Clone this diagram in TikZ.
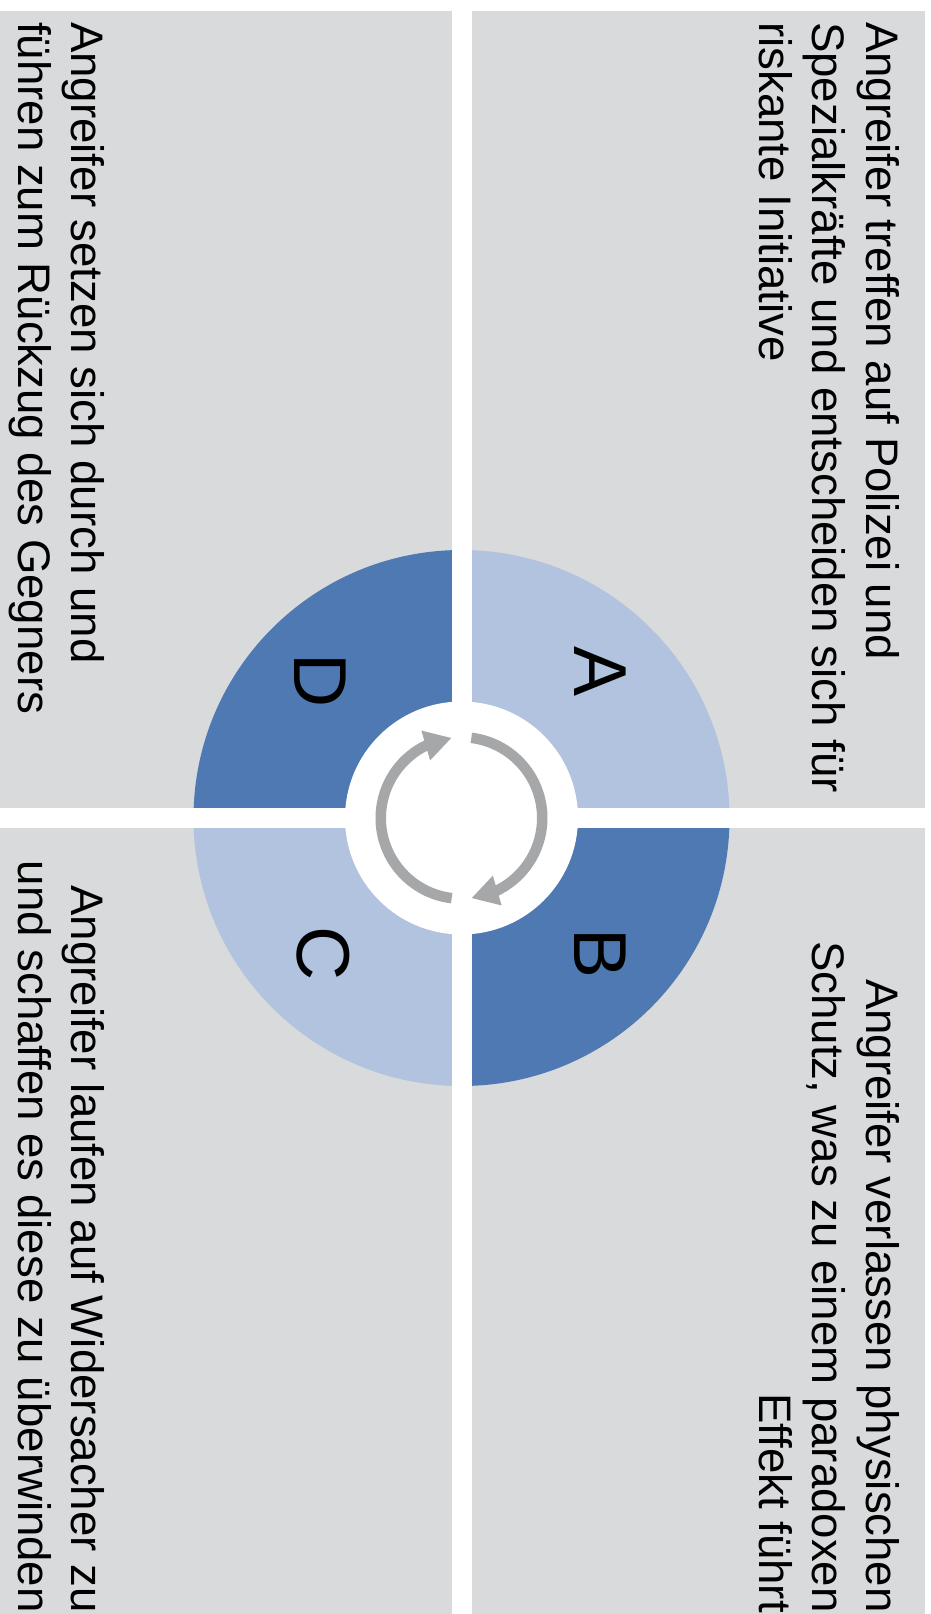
\documentclass[tikz,border=0pt]{standalone}
\usepackage{fontspec}
\setmainfont{Liberation Sans}
\usetikzlibrary{arrows.meta,bending}
\definecolor{bggray}{HTML}{D9DADC}
\definecolor{lightblue}{HTML}{B1C3DE}
\definecolor{darkblue}{HTML}{4E79B3}
\definecolor{arrowgray}{HTML}{A6A7A9}
\begin{document}
\begin{tikzpicture}[x=1pt,y=1pt,
  panel/.style={fill=bggray},
  letter/.style={font=\fontsize{75}{90}\selectfont, inner sep=0pt, rotate=-90},
  body/.style={font=\fontsize{45.6}{53.8}\selectfont, inner sep=0pt, rotate=-90},
  cyclearrow/.style={draw=arrowgray, line width=10.5pt, -{Triangle[length=27pt,width=29pt,flex]}}]
\useasboundingbox (0,0) rectangle (931,-1614);
\fill[white] (0,0) rectangle (931,-1614);
\coordinate (c) at (461.5,-818);
% quadrant panels
\fill[panel] (0,-11) rectangle (451.5,-808);
\fill[panel] (471.5,-11) rectangle (925,-808);
\fill[panel] (0,-828) rectangle (451.5,-1614);
\fill[panel] (471.5,-828) rectangle (925,-1614);
% ring sectors
\fill[lightblue] (c) -- ++(0:268) arc[start angle=0,end angle=90,radius=268] -- cycle;
\fill[darkblue] (c) -- ++(90:268) arc[start angle=90,end angle=180,radius=268] -- cycle;
\fill[lightblue] (c) -- ++(180:268) arc[start angle=180,end angle=270,radius=268] -- cycle;
\fill[darkblue] (c) -- ++(270:268) arc[start angle=270,end angle=360,radius=268] -- cycle;
% gaps
\fill[white] (451.5,-540) rectangle (471.5,-1100);
\fill[white] (180,-808) rectangle (740,-828);
\fill[white] (c) circle[radius=116.5];
% cycle arrows
\draw[cyclearrow] ([shift={(83:80.75)}]c) arc[start angle=83,end angle=-83,radius=80.75];
\draw[cyclearrow] ([shift={(263:80.75)}]c) arc[start angle=263,end angle=97,radius=80.75];
% letters
\node[letter] (lA) at (600,-672) {A};
\node[letter] (lB) at (600,-954) {B};
\node[letter] (lC) at (323,-954) {C};
\node[letter] (lD) at (320,-681) {D};
% texts (anchor = baseline of the last line)
\node[body, anchor=base west, align=left] (tA) at (759,-22)
  {Angreifer treffen auf Polizei und\\Spezialkräfte und entscheiden sich für\\riskante Initiative};
\node[body, anchor=base east, align=right] (tB) at (759,-1613)
  {Angreifer verlassen physischen\\Schutz, was zu einem paradoxen\\Effekt führt};
\node[body, anchor=base east, align=right] (tC) at (18,-1613)
  {Angreifer laufen auf Widersacher zu\\und schaffen es diese zu überwinden};
\node[body, anchor=base west, align=left] (tD) at (18,-22)
  {Angreifer setzen sich durch und\\führen zum Rückzug des Gegners};
\end{tikzpicture}
\end{document}
